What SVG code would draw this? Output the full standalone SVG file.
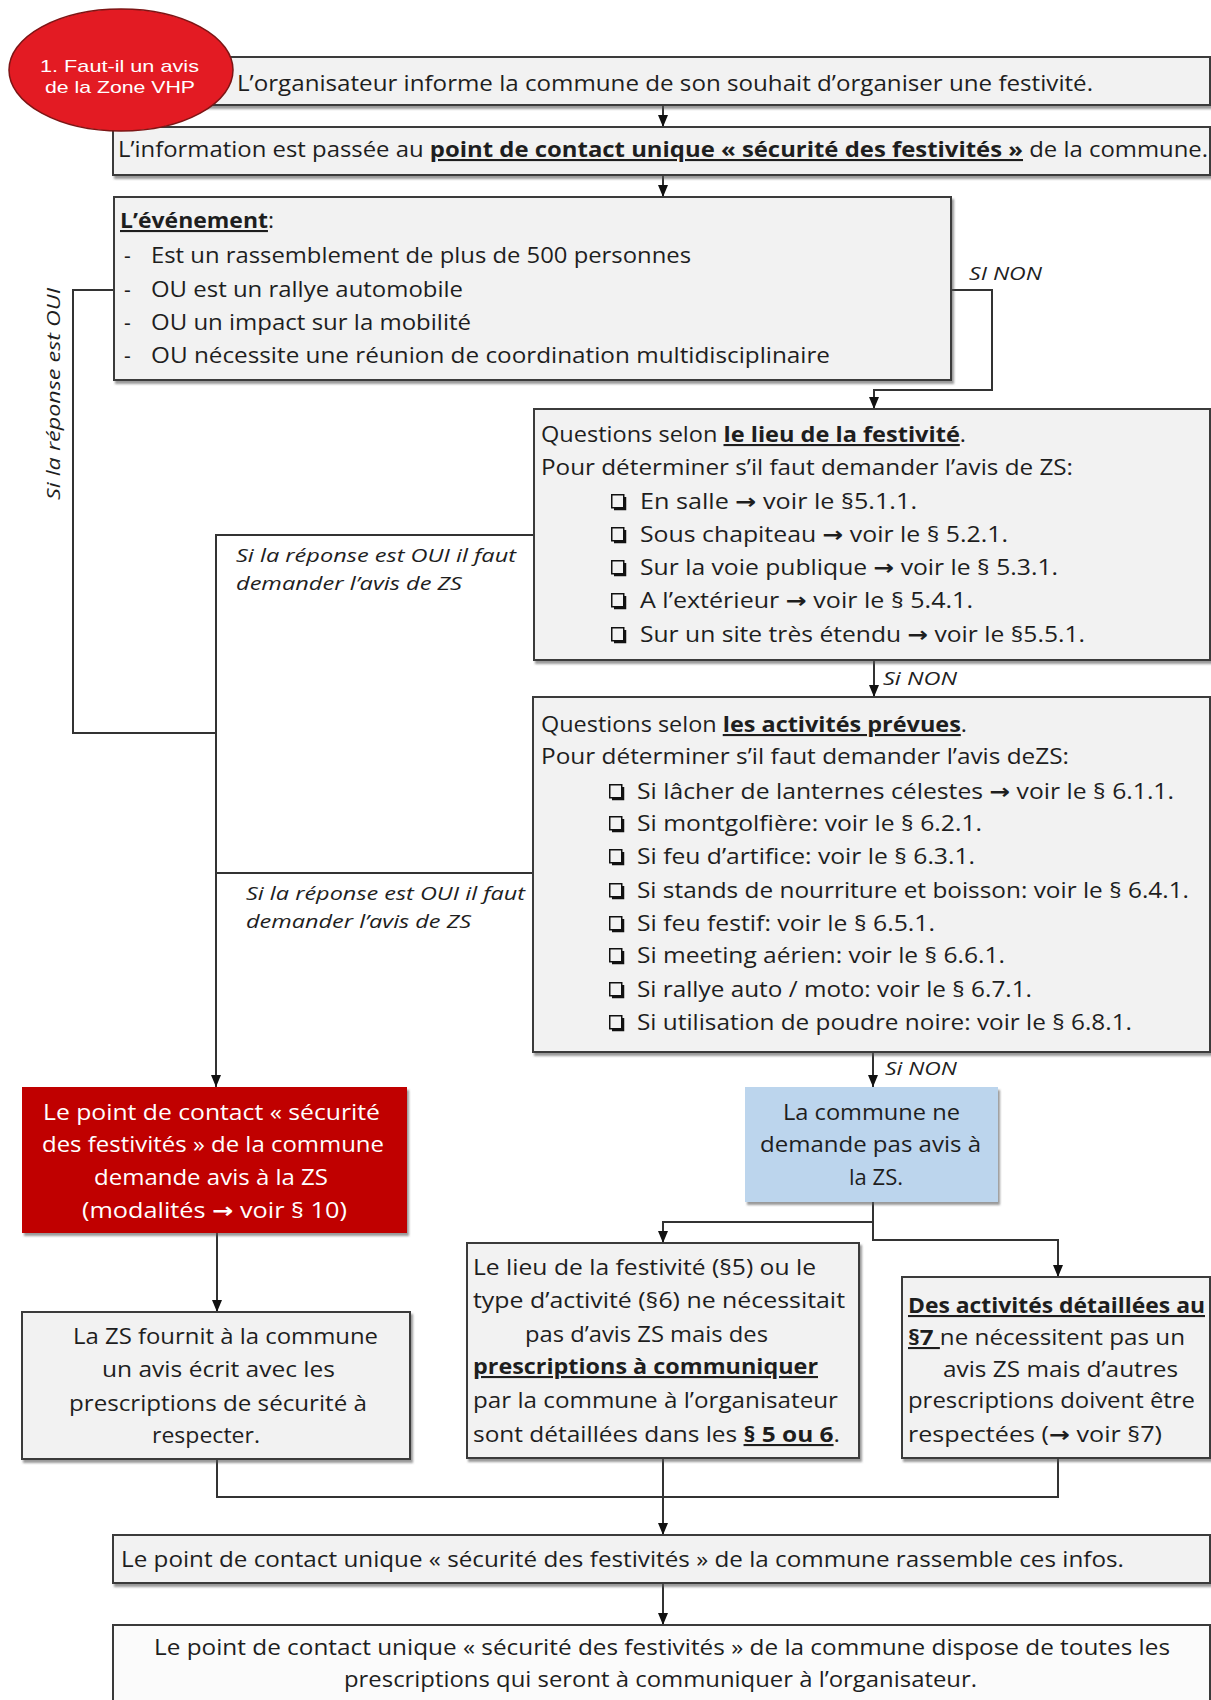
<svg xmlns="http://www.w3.org/2000/svg" xmlns:xlink="http://www.w3.org/1999/xlink" width="1211" height="1700" viewBox="0 0 1211 1700">
<defs>
<style>
.box{fill:#f2f2f2;stroke:#3a3a3a;stroke-width:2}
.wbox{fill:#fbfbfb;stroke:#3a3a3a;stroke-width:2}
.t{font-family:"Open Sans","Liberation Sans",sans-serif;font-size:21px;fill:#1e1e1e}
.b{font-weight:bold;text-decoration:underline}
.i{font-style:italic;font-size:19px}
.w{fill:#ffffff}
.a{font-family:"DejaVu Sans",sans-serif;font-weight:bold}
.ln{fill:none;stroke:#333;stroke-width:2}
.ar{marker-end:url(#ah)}
</style>
<marker id="ah" markerWidth="12" markerHeight="10" refX="12" refY="5" orient="auto" markerUnits="userSpaceOnUse"><path d="M0,0 L12,5 L0,10 z" fill="#111"/></marker>
<filter id="sh" x="-5%" y="-5%" width="112%" height="120%"><feDropShadow dx="2" dy="3" stdDeviation="1.2" flood-color="#555" flood-opacity="0.6"/></filter>
<g id="cb"><rect x="0.75" y="0.75" width="12" height="13" fill="none" stroke="#111" stroke-width="1.5"/><path d="M14,3 V15 H3" fill="none" stroke="#111" stroke-width="2.5"/></g>
</defs>
<rect width="1211" height="1700" fill="#ffffff"/>

<g id="connectors">
<path class="ln ar" d="M663,105 V127"/>
<path class="ln ar" d="M663,175 V197"/>
<path class="ln ar" d="M951,290 H992 V390 H874 V409"/>
<path class="ln" d="M114,290 H73 V733 H216"/>
<path class="ln ar" d="M534,535 H216 V1087"/>
<path class="ln" d="M533,873 H216"/>
<path class="ln ar" d="M874,660 V697"/>
<path class="ln ar" d="M873,1052 V1087"/>
<path class="ln ar" d="M873,1202 V1240 H1058 V1277"/>
<path class="ln ar" d="M873,1222 H663 V1243"/>
<path class="ln ar" d="M217,1233 V1312"/>
<path class="ln" d="M217,1459 V1497 H1058 V1458"/>
<path class="ln ar" d="M663,1458 V1535"/>
<path class="ln ar" d="M663,1583 V1625"/>
<text class="t i" x="969" y="280" textLength="73" lengthAdjust="spacingAndGlyphs">SI NON</text>
<text class="t i" x="883" y="685" textLength="74" lengthAdjust="spacingAndGlyphs">Si NON</text>
<text class="t i" x="885" y="1075" textLength="72" lengthAdjust="spacingAndGlyphs">Si NON</text>
<text class="t i" transform="translate(60,500) rotate(-90)" x="0" y="0" textLength="212" lengthAdjust="spacingAndGlyphs">Si la réponse est OUI</text>
<text class="t i" x="236" y="562" textLength="280" lengthAdjust="spacingAndGlyphs">Si la réponse est OUI il faut</text>
<text class="t i" x="236" y="590" textLength="226" lengthAdjust="spacingAndGlyphs">demander l’avis de ZS</text>
<text class="t i" x="246" y="900" textLength="279" lengthAdjust="spacingAndGlyphs">Si la réponse est OUI il faut</text>
<text class="t i" x="246" y="928" textLength="225" lengthAdjust="spacingAndGlyphs">demander l’avis de ZS</text>
</g>

<g id="n-informe">
<rect class="box" x="190" y="57" width="1020" height="48" filter="url(#sh)"/>
<text class="t" x="237" y="91" textLength="856" lengthAdjust="spacingAndGlyphs">L’organisateur informe la commune  de son souhait d’organiser une festivité.</text>
</g>

<g id="n-information">
<rect class="box" x="113" y="127" width="1097" height="48" filter="url(#sh)"/>
<text class="t" x="118" y="157" textLength="1090" lengthAdjust="spacingAndGlyphs">L’information est passée au <tspan class="b">point de contact unique « sécurité des festivités »</tspan> de la commune.</text>
</g>

<g id="n-evenement">
<rect class="box" x="114" y="197" width="837" height="183" filter="url(#sh)"/>
<text class="t" x="120" y="228" textLength="154" lengthAdjust="spacingAndGlyphs"><tspan class="b">L’événement</tspan>:</text>
<text class="t" x="124" y="263">-</text>
<text class="t" x="124" y="297">-</text>
<text class="t" x="124" y="330">-</text>
<text class="t" x="124" y="363">-</text>
<text class="t" x="151" y="263" textLength="540" lengthAdjust="spacingAndGlyphs">Est un rassemblement de plus de 500 personnes</text>
<text class="t" x="151" y="297" textLength="312" lengthAdjust="spacingAndGlyphs">OU est un rallye automobile</text>
<text class="t" x="151" y="330" textLength="320" lengthAdjust="spacingAndGlyphs">OU un impact sur la mobilité</text>
<text class="t" x="151" y="363" textLength="679" lengthAdjust="spacingAndGlyphs">OU nécessite une réunion de coordination multidisciplinaire</text>
</g>

<g id="n-lieu">
<rect class="box" x="534" y="409" width="676" height="251" filter="url(#sh)"/>
<text class="t" x="541" y="442" textLength="425" lengthAdjust="spacingAndGlyphs">Questions selon <tspan class="b">le lieu de la festivité</tspan>.</text>
<text class="t" x="541" y="475" textLength="532" lengthAdjust="spacingAndGlyphs">Pour déterminer  s’il faut demander  l’avis de ZS:</text>
<use xlink:href="#cb" x="611" y="494"/>
<use xlink:href="#cb" x="611" y="527"/>
<use xlink:href="#cb" x="611" y="560"/>
<use xlink:href="#cb" x="611" y="593"/>
<use xlink:href="#cb" x="611" y="627"/>
<text class="t" x="640" y="509" textLength="277" lengthAdjust="spacingAndGlyphs">En salle <tspan class="a">→</tspan> voir le §5.1.1.</text>
<text class="t" x="640" y="542" textLength="368" lengthAdjust="spacingAndGlyphs">Sous chapiteau <tspan class="a">→</tspan> voir le § 5.2.1.</text>
<text class="t" x="640" y="575" textLength="418" lengthAdjust="spacingAndGlyphs">Sur  la voie publique <tspan class="a">→</tspan> voir le § 5.3.1.</text>
<text class="t" x="640" y="608" textLength="333" lengthAdjust="spacingAndGlyphs">A l’extérieur <tspan class="a">→</tspan> voir le § 5.4.1.</text>
<text class="t" x="640" y="642" textLength="445" lengthAdjust="spacingAndGlyphs">Sur un site très étendu <tspan class="a">→</tspan> voir le §5.5.1.</text>
</g>

<g id="n-activites">
<rect class="box" x="533" y="697" width="677" height="355" filter="url(#sh)"/>
<text class="t" x="541" y="732" textLength="426" lengthAdjust="spacingAndGlyphs">Questions selon <tspan class="b">les activités prévues</tspan>.</text>
<text class="t" x="541" y="764" textLength="528" lengthAdjust="spacingAndGlyphs">Pour déterminer  s’il faut demander  l’avis deZS:</text>
<use xlink:href="#cb" x="609" y="784"/>
<use xlink:href="#cb" x="609" y="816"/>
<use xlink:href="#cb" x="609" y="849"/>
<use xlink:href="#cb" x="609" y="883"/>
<use xlink:href="#cb" x="609" y="916"/>
<use xlink:href="#cb" x="609" y="948"/>
<use xlink:href="#cb" x="609" y="982"/>
<use xlink:href="#cb" x="609" y="1015"/>
<text class="t" x="637" y="799" textLength="537" lengthAdjust="spacingAndGlyphs">Si lâcher de lanternes célestes <tspan class="a">→</tspan> voir le § 6.1.1.</text>
<text class="t" x="637" y="831" textLength="345" lengthAdjust="spacingAndGlyphs">Si montgolfière: voir le § 6.2.1.</text>
<text class="t" x="637" y="864" textLength="338" lengthAdjust="spacingAndGlyphs">Si feu d’artifice: voir le § 6.3.1.</text>
<text class="t" x="637" y="898" textLength="552" lengthAdjust="spacingAndGlyphs">Si stands de nourriture  et boisson: voir le § 6.4.1.</text>
<text class="t" x="637" y="931" textLength="298" lengthAdjust="spacingAndGlyphs">Si feu festif: voir le § 6.5.1.</text>
<text class="t" x="637" y="963" textLength="368" lengthAdjust="spacingAndGlyphs">Si meeting aérien: voir le § 6.6.1.</text>
<text class="t" x="637" y="997" textLength="395" lengthAdjust="spacingAndGlyphs">Si rallye auto / moto:  voir le § 6.7.1.</text>
<text class="t" x="637" y="1030" textLength="495" lengthAdjust="spacingAndGlyphs">Si utilisation de poudre noire: voir le § 6.8.1.</text>
</g>

<g id="n-demande-avis">
<rect x="22" y="1087" width="385" height="146" fill="#c00000" filter="url(#sh)"/>
<text class="t w" x="43" y="1120" textLength="337" lengthAdjust="spacingAndGlyphs">Le point de contact « sécurité</text>
<text class="t w" x="42" y="1152" textLength="342" lengthAdjust="spacingAndGlyphs">des festivités » de la commune</text>
<text class="t w" x="94" y="1185" textLength="234" lengthAdjust="spacingAndGlyphs">demande  avis à la ZS</text>
<text class="t w" x="82" y="1218" textLength="265" lengthAdjust="spacingAndGlyphs">(modalités <tspan class="a">→</tspan> voir § 10)</text>
</g>

<g id="n-pas-avis">
<rect x="745" y="1087" width="253" height="115" fill="#bcd5ed" filter="url(#sh)"/>
<text class="t" x="783" y="1120" textLength="177" lengthAdjust="spacingAndGlyphs">La commune  ne</text>
<text class="t" x="760" y="1152" textLength="221" lengthAdjust="spacingAndGlyphs">demande  pas avis à</text>
<text class="t" x="849" y="1185" textLength="54" lengthAdjust="spacingAndGlyphs">la ZS.</text>
</g>

<g id="n-zs-fournit">
<rect class="box" x="22" y="1312" width="388" height="147" filter="url(#sh)"/>
<text class="t" x="73" y="1344" textLength="305" lengthAdjust="spacingAndGlyphs">La ZS fournit à la commune</text>
<text class="t" x="102" y="1377" textLength="233" lengthAdjust="spacingAndGlyphs">un avis écrit avec les</text>
<text class="t" x="69" y="1411" textLength="298" lengthAdjust="spacingAndGlyphs">prescriptions de sécurité à</text>
<text class="t" x="152" y="1443" textLength="108" lengthAdjust="spacingAndGlyphs">respecter.</text>
</g>

<g id="n-lieu-type">
<rect class="box" x="467" y="1243" width="392" height="215" filter="url(#sh)"/>
<text class="t" x="473" y="1275" textLength="343" lengthAdjust="spacingAndGlyphs">Le lieu de la festivité (§5) ou le</text>
<text class="t" x="473" y="1308" textLength="372" lengthAdjust="spacingAndGlyphs">type d’activité (§6) ne nécessitait</text>
<text class="t" x="525" y="1342" textLength="243" lengthAdjust="spacingAndGlyphs">pas d’avis ZS mais des</text>
<text class="t" x="473" y="1374" textLength="345" lengthAdjust="spacingAndGlyphs"><tspan class="b">prescriptions à communiquer</tspan></text>
<text class="t" x="473" y="1408" textLength="365" lengthAdjust="spacingAndGlyphs">par la commune  à l’organisateur</text>
<text class="t" x="473" y="1442" textLength="367" lengthAdjust="spacingAndGlyphs">sont détaillées dans les <tspan class="b">§ 5 ou 6</tspan>.</text>
</g>

<g id="n-activites-7">
<rect class="box" x="902" y="1277" width="308" height="181" filter="url(#sh)"/>
<text class="t" x="908" y="1313" textLength="297" lengthAdjust="spacingAndGlyphs"><tspan class="b">Des activités détaillées au</tspan></text>
<text class="t" x="908" y="1345" textLength="277" lengthAdjust="spacingAndGlyphs"><tspan class="b">§7 </tspan>ne nécessitent pas un</text>
<text class="t" x="943" y="1377" textLength="235" lengthAdjust="spacingAndGlyphs">avis ZS  mais d’autres</text>
<text class="t" x="908" y="1408" textLength="287" lengthAdjust="spacingAndGlyphs">prescriptions doivent être</text>
<text class="t" x="908" y="1442" textLength="254" lengthAdjust="spacingAndGlyphs">respectées (<tspan class="a">→</tspan> voir §7)</text>
</g>

<g id="n-rassemble">
<rect class="box" x="113" y="1535" width="1097" height="48" filter="url(#sh)"/>
<text class="t" x="121" y="1567" textLength="1003" lengthAdjust="spacingAndGlyphs">Le point de contact unique « sécurité des festivités » de la commune  rassemble ces infos.</text>
</g>

<g id="n-dispose">
<rect class="wbox" x="113" y="1625" width="1097" height="90"/>
<text class="t" x="154" y="1655" textLength="1016" lengthAdjust="spacingAndGlyphs">Le point de contact unique « sécurité des festivités » de la commune  dispose de toutes les</text>
<text class="t" x="344" y="1687" textLength="633" lengthAdjust="spacingAndGlyphs">prescriptions qui seront à communiquer  à l’organisateur.</text>
</g>

<g id="n-zone-vhp">
<ellipse cx="121" cy="70" rx="112" ry="61" fill="#e31b23" stroke="#7d1515" stroke-width="1.5"/>
<text x="40" y="72" font-family="Liberation Sans, Arial, sans-serif" font-size="17" fill="#ffffff" textLength="159" lengthAdjust="spacingAndGlyphs">1. Faut-il un avis</text>
<text x="45" y="93" font-family="Liberation Sans, Arial, sans-serif" font-size="17" fill="#ffffff" textLength="150" lengthAdjust="spacingAndGlyphs">de la Zone VHP</text>
</g>
</svg>
